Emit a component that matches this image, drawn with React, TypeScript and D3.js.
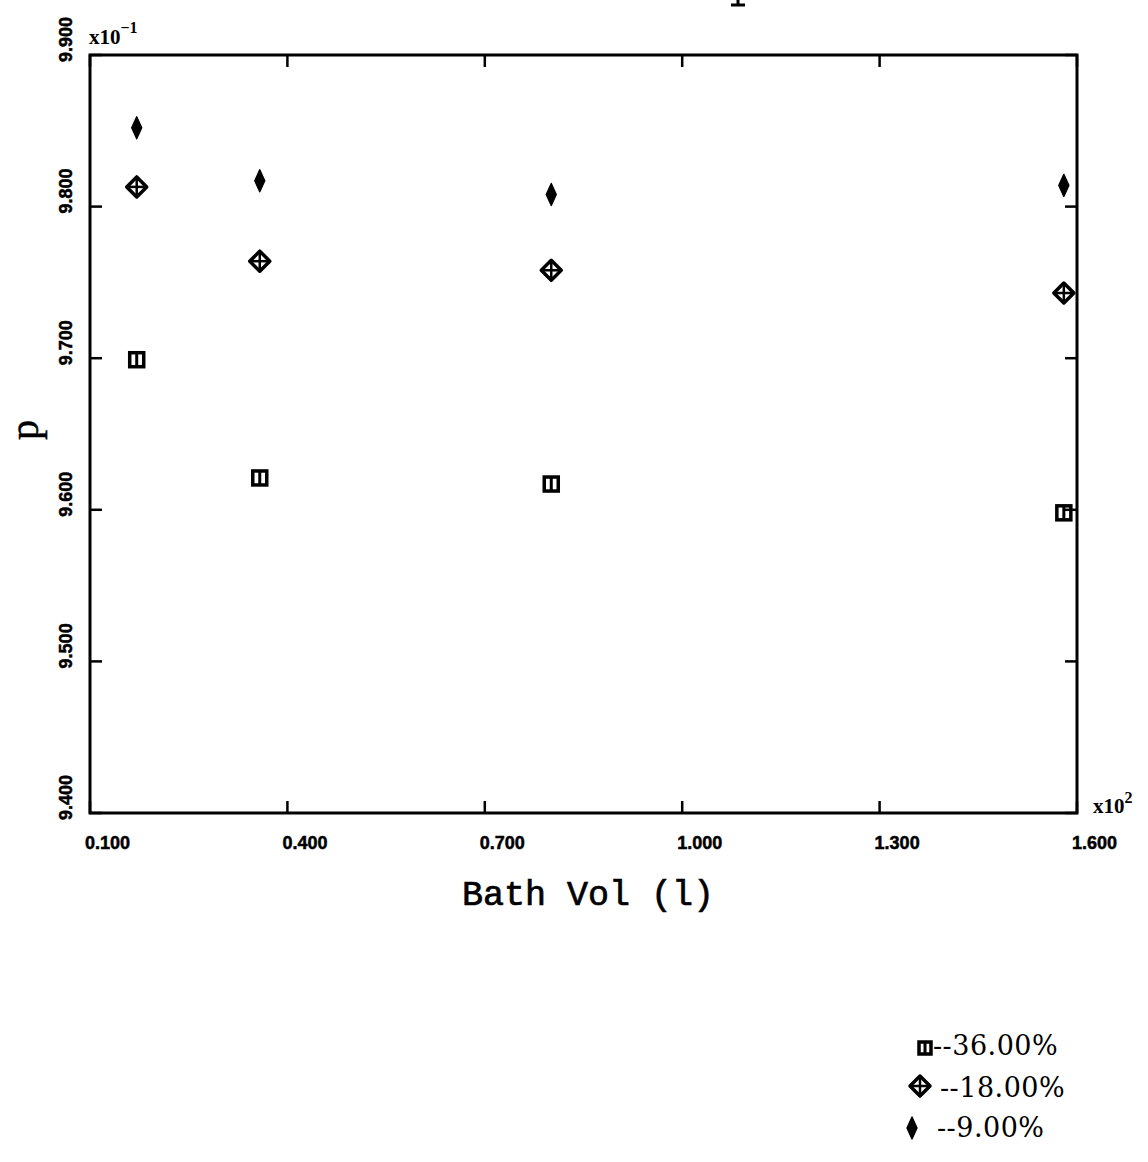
import React from "react";
import * as d3 from "d3";

const xTickValues = [0.1, 0.4, 0.7, 1.0, 1.3, 1.6];
const xTickLabels = ["0.100", "0.400", "0.700", "1.000", "1.300", "1.600"];
const yTickValues = [9.4, 9.5, 9.6, 9.7, 9.8, 9.9];
const yTickLabels = ["9.400", "9.500", "9.600", "9.700", "9.800", "9.900"];

const bathVol = [0.171, 0.358, 0.801, 1.58];
const p36 = [9.699, 9.621, 9.617, 9.598];
const p18 = [9.813, 9.764, 9.758, 9.743];
const p9 = [9.852, 9.817, 9.808, 9.814];
const seriesLabels = ["--36.00%", "--18.00%", "--9.00%"];

const W = 1148;
const H = 1162;
const L = 90, R = 1077, T = 55, B = 813;

const x = d3.scaleLinear().domain([0.1, 1.6]).range([L, R]);
const y = d3.scaleLinear().domain([9.4, 9.9]).range([B, T]);

const tickFont = "'Liberation Sans', Arial, sans-serif";

function SquareMark({ cx, cy, s = 7 }: { cx: number; cy: number; s?: number }) {
  return (
    <g>
      <rect x={cx - s} y={cy - s} width={2 * s} height={2 * s} fill="none" stroke="#000" strokeWidth={3.5} />
      <line x1={cx} x2={cx} y1={cy - s} y2={cy + s} stroke="#000" strokeWidth={3} />
    </g>
  );
}

function OpenDiamond({ cx, cy, r = 10 }: { cx: number; cy: number; r?: number }) {
  const d = `M${cx},${cy - r}L${cx + r},${cy}L${cx},${cy + r}L${cx - r},${cy}Z`;
  return (
    <g>
      <path d={d} fill="none" stroke="#000" strokeWidth={3.5} strokeLinejoin="round" />
      <line x1={cx - r} x2={cx + r} y1={cy} y2={cy} stroke="#000" strokeWidth={2.5} />
      <line x1={cx} x2={cx} y1={cy - r} y2={cy + r} stroke="#000" strokeWidth={2.5} />
    </g>
  );
}

function FilledDiamond({ cx, cy }: { cx: number; cy: number }) {
  const d = `M${cx},${cy - 11}L${cx + 5},${cy}L${cx},${cy + 11}L${cx - 5},${cy}Z`;
  return <path d={d} fill="#000" stroke="#000" strokeWidth={1.4} strokeLinejoin="round" />;
}

export default function App() {
  const tickLen = 12;
  return (
    <div style={{ position: "absolute", left: 0, top: 0 }}>
      <svg width={W} height={H} viewBox={`0 0 ${W} ${H}`} style={{ display: "block", background: "#fff" }}>
        <rect x={0} y={0} width={W} height={H} fill="#fff" />
        {/* bottom of the title glyph that is cut off at the top edge */}
        <path d="M731,5 L745,5 M738,0 L738,5" stroke="#000" strokeWidth={3} fill="none" />

        {/* frame */}
        <rect x={L} y={T} width={R - L} height={B - T} fill="none" stroke="#000" strokeWidth={3} />

        {/* x ticks */}
        {xTickValues.map((v, i) => (
          <g key={"xt" + i}>
            <line x1={x(v)} x2={x(v)} y1={B} y2={B - tickLen} stroke="#000" strokeWidth={2.5} />
            <line x1={x(v)} x2={x(v)} y1={T} y2={T + tickLen} stroke="#000" strokeWidth={2.5} />
            <text x={x(v) - 5} y={849} fontFamily={tickFont} fontWeight="bold" fontSize={18} textAnchor="start"
              stroke="#000" strokeWidth={0.5}>
              {xTickLabels[i]}
            </text>
          </g>
        ))}

        {/* y ticks */}
        {yTickValues.map((v, i) => (
          <g key={"yt" + i}>
            <line x1={L} x2={L + tickLen} y1={y(v)} y2={y(v)} stroke="#000" strokeWidth={2.5} />
            <line x1={R} x2={R - tickLen} y1={y(v)} y2={y(v)} stroke="#000" strokeWidth={2.5} />
            <text
              transform={`translate(72,${y(v) + 7}) rotate(-90)`}
              fontFamily={tickFont}
              fontWeight="bold"
              fontSize={18}
              textAnchor="start"
              stroke="#000" strokeWidth={0.5}
            >
              {yTickLabels[i]}
            </text>
          </g>
        ))}

        {/* exponents */}
        <text x={89} y={44} fontFamily="'Liberation Serif', serif" fontWeight="bold" fontSize={21}>
          x10<tspan dy={-11} fontSize={16}>−1</tspan>
        </text>
        <text x={1093} y={813} fontFamily="'Liberation Serif', serif" fontWeight="bold" fontSize={21}>
          x10<tspan dy={-10} fontSize={16}>2</tspan>
        </text>

        {/* axis titles */}
        <text x={588} y={905} textAnchor="middle" fontFamily="'Liberation Mono', monospace" fontSize={35}
          stroke="#000" strokeWidth={0.7}>
          Bath Vol (l)
        </text>
        <text transform="translate(38,430) rotate(-90)" textAnchor="middle" fontFamily="'Liberation Serif', serif" fontSize={40}
          stroke="#000" strokeWidth={0.5}>
          p
        </text>

        {/* data */}
        {bathVol.map((v, i) => (
          <SquareMark key={"s" + i} cx={x(v)} cy={y(p36[i])} />
        ))}
        {bathVol.map((v, i) => (
          <OpenDiamond key={"d" + i} cx={x(v)} cy={y(p18[i])} />
        ))}
        {bathVol.map((v, i) => (
          <FilledDiamond key={"f" + i} cx={x(v)} cy={y(p9[i])} />
        ))}

        {/* legend */}
        <SquareMark cx={925} cy={1048} s={6} />
        <text x={933} y={1055} fontFamily="'DejaVu Serif', serif" fontSize={27} letterSpacing={0.5}>{seriesLabels[0]}</text>
        <OpenDiamond cx={920} cy={1086} r={10} />
        <text x={940} y={1097} fontFamily="'DejaVu Serif', serif" fontSize={27} letterSpacing={0.5}>{seriesLabels[1]}</text>
        <FilledDiamond cx={912} cy={1128} />
        <text x={937} y={1137} fontFamily="'DejaVu Serif', serif" fontSize={27} letterSpacing={0.5}>{seriesLabels[2]}</text>
      </svg>
    </div>
  );
}
